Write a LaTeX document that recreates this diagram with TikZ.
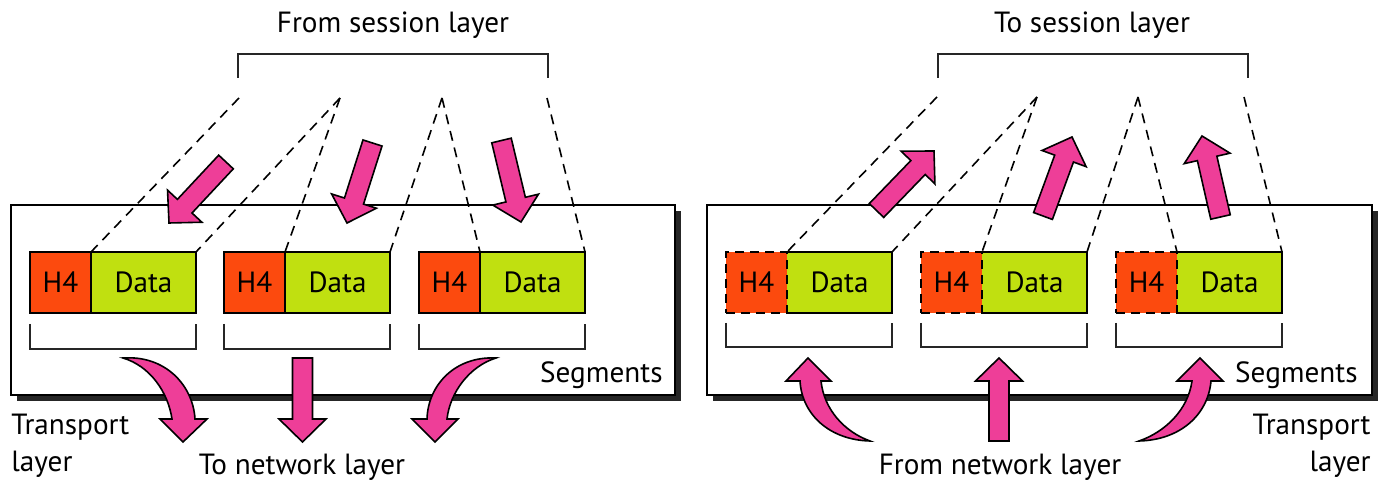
\documentclass[tikz,border=0pt]{standalone}
\usepackage{fontspec}
\setmainfont{PT Sans}
\usetikzlibrary{calc}
\definecolor{arrowpink}{HTML}{EE3E98}
\definecolor{hdr}{HTML}{FC4A0E}
\definecolor{datag}{HTML}{C0E010}
\newcommand\txtfont{\fontsize{14.6pt}{18.5pt}\selectfont}
\newcommand\fatarrow[4]{%
 \pgfmathsetmacro\fdx{(#3)-(#1)}\pgfmathsetmacro\fdy{(#4)-(#2)}%
 \pgfmathsetmacro\fL{sqrt((\fdx)*(\fdx)+(\fdy)*(\fdy))}%
 \pgfmathsetmacro\fux{(\fdx)/(\fL)}\pgfmathsetmacro\fuy{(\fdy)/(\fL)}%
 \pgfmathsetmacro\fnx{-1*(\fuy)}\pgfmathsetmacro\fny{\fux}%
 \filldraw[pinkarrow] ({#1+10*(\fnx)},{#2+10*(\fny)})
  -- ({#3-23*(\fux)+10*(\fnx)},{#4-23*(\fuy)+10*(\fny)})
  -- ({#3-23*(\fux)+23.5*(\fnx)},{#4-23*(\fuy)+23.5*(\fny)})
  -- (#3,#4)
  -- ({#3-23*(\fux)-23.5*(\fnx)},{#4-23*(\fuy)-23.5*(\fny)})
  -- ({#3-23*(\fux)-10*(\fnx)},{#4-23*(\fuy)-10*(\fny)})
  -- ({#1-10*(\fnx)},{#2-10*(\fny)}) -- cycle;}
\tikzset{
 pinkarrow/.style={fill=arrowpink, draw=black, line width=0.8pt, line join=miter},
 h4box/.style={draw, fill=hdr, line width=1pt, minimum width=30.5pt, minimum height=30.5pt, inner sep=0pt, outer sep=0pt, anchor=north west, font=\txtfont},
 h4dash/.style={h4box, dash pattern=on 4.5pt off 3pt},
 databox/.style={draw, fill=datag, line width=1pt, minimum width=52.5pt, minimum height=30.5pt, inner sep=0pt, outer sep=0pt, anchor=north west, font=\txtfont},
 datafill/.style={databox, draw=none},
 layerbox/.style={draw, fill=white, line width=1pt},
 shadowbox/.style={fill=black!85},
 link/.style={dashed, dash pattern=on 5pt off 3.5pt, line width=0.8pt},
 bracket/.style={line width=0.8pt, draw=black!85},
 label/.style={font=\txtfont, inner sep=0pt},
}
\begin{document}
\begin{tikzpicture}[x=0.5pt,y=-0.5pt]
\useasboundingbox (0,0) rectangle (1396,490);
% ---------- left panel ----------
\fill[shadowbox] (17,211) rectangle (681,401);
\draw[layerbox] (11,205) rectangle (675,395);
\node[label] (fromsess) at (393,25) {From session layer};
\draw[bracket] (238,78) -- (238,54) -- (548,54) -- (548,78);
\coordinate (lp1) at (239,98);
\coordinate (lp2) at (340,98);
\coordinate (lp3) at (442,98);
\coordinate (lp4) at (547,98);
\node[h4box] (lh1) at (30,252) {H4};
\node[databox] (ld1) at (lh1.north east) {Data};
\node[h4box] (lh2) at (224,252) {H4};
\node[databox] (ld2) at (lh2.north east) {Data};
\node[h4box] (lh3) at (419,252) {H4};
\node[databox] (ld3) at (lh3.north east) {Data};
\draw[link] (lp1) -- (lh1.north east);
\draw[link] (lp2) -- (ld1.north east);
\draw[link] (lp2) -- (lh2.north east);
\draw[link] (lp3) -- (ld2.north east);
\draw[link] (lp3) -- (lh3.north east);
\draw[link] (lp4) -- (ld3.north east);
\foreach \h/\d in {lh1/ld1,lh2/ld2,lh3/ld3}{
  \draw[bracket] ($(\h.south west)+(0,11)$) -- ($(\h.south west)+(0,36)$) -- ($(\d.south east)+(0,36)$) -- ($(\d.south east)+(0,11)$);
}
\fatarrow{226}{162}{169}{223}
\fatarrow{372.5}{143}{347}{223}
\fatarrow{501.5}{140.5}{521}{222}
\fatarrow{302.5}{358}{302.5}{442}
\filldraw[pinkarrow] (123,358) .. controls (165,355) and (193,385) .. (195,419) -- (207,419) -- (183,442) -- (160,419) -- (172,419) .. controls (168,392) and (150,366) .. (123,358) -- cycle;
\filldraw[pinkarrow] (496,358) .. controls (455,356) and (428,385) .. (427,419) -- (412,419) -- (435,442) -- (458,419) -- (447,419) .. controls (450,392) and (470,366) .. (496,358) -- cycle;
\node[label, anchor=east] (lseg) at (663,375) {Segments};
\node[label, anchor=west, align=left] (ltrans) at (11,446) {Transport\\layer};
\node[label] (tonet) at (302,467) {To network layer};
% ---------- right panel ----------
\fill[shadowbox] (713,211) rectangle (1378,401);
\draw[layerbox] (707,205) rectangle (1372,395);
\node[label] (tosess) at (1092,25) {To session layer};
\draw[bracket] (938,78) -- (938,54) -- (1248,54) -- (1248,78);
\coordinate (rp1) at (937,97);
\coordinate (rp2) at (1037,97);
\coordinate (rp3) at (1138,97);
\coordinate (rp4) at (1244,97);
\node[datafill] (rd1) at (787,252) {Data};
\node[datafill] (rd2) at (982,252) {Data};
\node[datafill] (rd3) at (1177,252) {Data};
\foreach \d in {rd1,rd2,rd3}{
  \draw[line width=1pt] (\d.north west) -| (\d.south east) -- (\d.south west);
}
\node[h4dash, anchor=north east] (rh1) at (rd1.north west) {H4};
\node[h4dash, anchor=north east] (rh2) at (rd2.north west) {H4};
\node[h4dash, anchor=north east] (rh3) at (rd3.north west) {H4};
\draw[link] (rp1) -- (rh1.north east);
\draw[link] (rp2) -- (rd1.north east);
\draw[link] (rp2) -- (rh2.north east);
\draw[link] (rp3) -- (rd2.north east);
\draw[link] (rp3) -- (rh3.north east);
\draw[link] (rp4) -- (rd3.north east);
\foreach \h/\d in {rh1/rd1,rh2/rd2,rh3/rd3}{
  \draw[bracket] ($(\h.south west)+(0,10)$) -- ($(\h.south west)+(0,34)$) -- ($(\d.south east)+(0,34)$) -- ($(\d.south east)+(0,10)$);
}
\fatarrow{876.5}{210.5}{934}{151}
\fatarrow{1043}{216}{1072}{137}
\fatarrow{1220.5}{217}{1202}{136}
\fatarrow{999}{441}{999}{358}
\filldraw[pinkarrow] (870,441) .. controls (830,440) and (802,415) .. (800,381) -- (786,381) -- (808,358) -- (831,381) -- (821,381) .. controls (824,410) and (845,432) .. (870,441) -- cycle;
\filldraw[pinkarrow] (1139,441) .. controls (1180,440) and (1208,415) .. (1211,381) -- (1223,381) -- (1200,358) -- (1177,381) -- (1192,381) .. controls (1188,410) and (1165,432) .. (1139,441) -- cycle;
\node[label, anchor=east] (rseg) at (1358,375) {Segments};
\node[label, anchor=east, align=right] (rtrans) at (1371,446) {Transport\\layer};
\node[label] (fromnet) at (1000,467) {From network layer};
\end{tikzpicture}
\end{document}
